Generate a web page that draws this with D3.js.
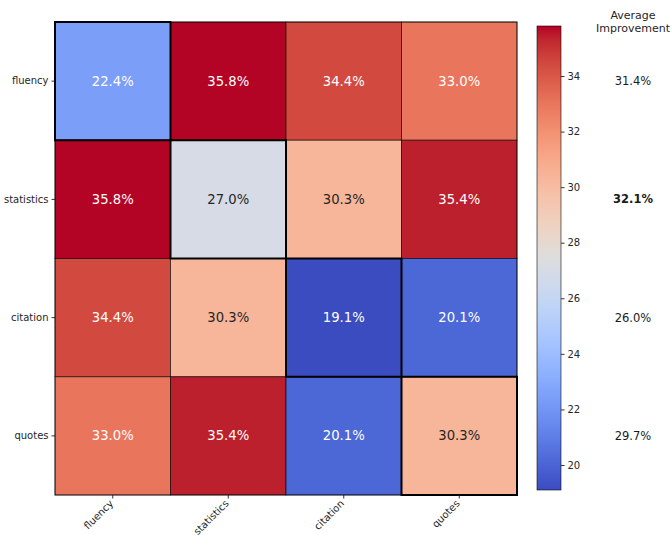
<!DOCTYPE html>
<html>
<head>
<meta charset="utf-8">
<script src="https://cdn.jsdelivr.net/npm/d3@7"></script>
<style>
  html, body { margin: 0; padding: 0; background: #fff; }
  svg { display: block; font-family: "DejaVu Sans", sans-serif; }
</style>
</head>
<body>
<svg id="chart" width="672" height="535"></svg>
<script>
// Pairwise improvement (%) between strategy combinations
const strategies = ["fluency", "statistics", "citation", "quotes"];
const rowFluency    = [22.4, 35.8, 34.4, 33.0];
const rowStatistics = [35.8, 27.0, 30.3, 35.4];
const rowCitation   = [34.4, 30.3, 19.1, 20.1];
const rowQuotes     = [33.0, 35.4, 20.1, 30.3];
const averages      = [31.4, 32.1, 26.0, 29.7];
const colorbarTicks = [20, 22, 24, 26, 28, 30, 32, 34];
const colorMin = 19.1, colorMax = 35.8;

const matrix = [rowFluency, rowStatistics, rowCitation, rowQuotes];
const bestAverage = d3.max(averages);

// coolwarm diverging colormap (Moreland), sampled stops
const coolwarmStops = [
  [59,76,192],[68,90,204],[77,104,215],[87,117,225],[98,130,234],[108,142,241],
  [119,154,247],[130,165,251],[141,176,254],[152,185,255],[163,194,255],[174,201,253],
  [184,208,249],[194,213,244],[204,217,238],[213,219,230],[221,221,221],[229,216,209],
  [236,211,197],[241,204,185],[245,196,173],[247,187,160],[247,177,148],[247,166,135],
  [244,154,123],[241,141,111],[236,127,99],[229,112,88],[222,96,77],[213,80,66],
  [203,62,56],[192,40,47],[180,4,38]
].map(c => d3.rgb(c[0], c[1], c[2]));
const coolwarm = d3.scaleLinear()
  .domain(coolwarmStops.map((_, i) => i / (coolwarmStops.length - 1)))
  .range(coolwarmStops)
  .interpolate(d3.interpolateRgb)
  .clamp(true);
const norm = d3.scaleLinear().domain([colorMin, colorMax]).clamp(true);
const colorOf = v => coolwarm(norm(v));

// Light or dark annotation depending on cell luminance
function textColorFor(fill) {
  const c = d3.rgb(fill);
  const lin = x => { x /= 255; return x <= 0.03928 ? x / 12.92 : Math.pow((x + 0.055) / 1.055, 2.4); };
  const lum = 0.2126 * lin(c.r) + 0.7152 * lin(c.g) + 0.0722 * lin(c.b);
  return lum > 0.408 ? "#262626" : "#ffffff";
}

const svg = d3.select("#chart");
const hm = { left: 55, top: 22, right: 517, bottom: 495 };

const x = d3.scaleBand().domain(strategies).range([hm.left, hm.right]);
const y = d3.scaleBand().domain(strategies).range([hm.top, hm.bottom]);

const cells = [];
matrix.forEach((row, i) => row.forEach((v, j) => cells.push({ r: strategies[i], c: strategies[j], i, j, v })));

const g = svg.append("g");

// Cells with thin edges
g.selectAll("rect.cell")
  .data(cells)
  .join("rect")
  .attr("class", "cell")
  .attr("x", d => x(d.c))
  .attr("y", d => y(d.r))
  .attr("width", x.bandwidth())
  .attr("height", y.bandwidth())
  .attr("fill", d => colorOf(d.v))
  .attr("stroke", "rgba(0,0,0,0.6)")
  .attr("stroke-width", 1);

// Diagonal cells outlined more heavily
g.selectAll("rect.diag")
  .data(cells.filter(d => d.i === d.j))
  .join("rect")
  .attr("class", "diag")
  .attr("x", d => x(d.c))
  .attr("y", d => y(d.r))
  .attr("width", x.bandwidth())
  .attr("height", y.bandwidth())
  .attr("fill", "none")
  .attr("stroke", "#000")
  .attr("stroke-width", 2);

// Cell annotations
g.selectAll("text.annot")
  .data(cells)
  .join("text")
  .attr("class", "annot")
  .attr("x", d => x(d.c) + x.bandwidth() / 2)
  .attr("y", d => y(d.r) + y.bandwidth() / 2)
  .attr("text-anchor", "middle")
  .attr("dominant-baseline", "central")
  .attr("font-size", 13.2)
  .attr("fill", d => textColorFor(colorOf(d.v)))
  .text(d => d.v.toFixed(1) + "%");

// Y axis
const yAxis = svg.append("g")
  .attr("transform", `translate(${hm.left},0)`)
  .call(d3.axisLeft(y).tickSize(3.5).tickPadding(3));
yAxis.select(".domain").remove();
yAxis.selectAll("text").attr("font-size", 10).attr("fill", "#262626").attr("font-family", "DejaVu Sans, sans-serif");
yAxis.selectAll("line").attr("stroke", "#333");

// X axis with rotated labels
const xAxis = svg.append("g")
  .attr("transform", `translate(0,${hm.bottom})`)
  .call(d3.axisBottom(x).tickSize(3.5).tickPadding(3));
xAxis.select(".domain").remove();
xAxis.selectAll("line").attr("stroke", "#333");
xAxis.selectAll("text")
  .attr("font-size", 10)
  .attr("fill", "#262626")
  .attr("font-family", "DejaVu Sans, sans-serif")
  .attr("text-anchor", "end")
  .attr("dy", null)
  .attr("y", 0)
  .attr("dominant-baseline", "hanging")
  .attr("transform", "translate(-4,4) rotate(-45)");

// Heatmap frame
svg.append("rect")
  .attr("x", hm.left).attr("y", hm.top)
  .attr("width", hm.right - hm.left).attr("height", hm.bottom - hm.top)
  .attr("fill", "none").attr("stroke", "rgba(0,0,0,0.6)").attr("stroke-width", 1);

// Colorbar
const cb = { x: 537, w: 24, top: 26, bottom: 490 };
const cbScale = d3.scaleLinear().domain([colorMin, colorMax]).range([cb.bottom, cb.top]);
const defs = svg.append("defs");
const grad = defs.append("linearGradient")
  .attr("id", "cbgrad").attr("x1", 0).attr("y1", 1).attr("x2", 0).attr("y2", 0);
d3.range(0, 1.0001, 1 / 64).forEach(t => {
  grad.append("stop").attr("offset", t).attr("stop-color", coolwarm(t));
});
svg.append("rect")
  .attr("x", cb.x).attr("y", cb.top)
  .attr("width", cb.w).attr("height", cb.bottom - cb.top)
  .attr("fill", "url(#cbgrad)")
  .attr("stroke", "rgba(0,0,0,0.7)").attr("stroke-width", 0.8);
const cbAxis = svg.append("g")
  .attr("transform", `translate(${cb.x + cb.w},0)`)
  .call(d3.axisRight(cbScale).tickValues(colorbarTicks).tickSize(3.5).tickPadding(3));
cbAxis.select(".domain").remove();
cbAxis.selectAll("line").attr("stroke", "#333");
cbAxis.selectAll("text").attr("font-size", 10).attr("fill", "#262626").attr("font-family", "DejaVu Sans, sans-serif");

// Average improvement column
const avgX = 633;
svg.append("text")
  .attr("x", avgX).attr("y", 15)
  .attr("text-anchor", "middle").attr("dominant-baseline", "central")
  .attr("font-size", 11).attr("fill", "#262626")
  .text("Average");
svg.append("text")
  .attr("x", avgX).attr("y", 28)
  .attr("text-anchor", "middle").attr("dominant-baseline", "central")
  .attr("font-size", 11).attr("fill", "#262626")
  .text("Improvement");
svg.selectAll("text.avg")
  .data(averages)
  .join("text")
  .attr("class", "avg")
  .attr("x", avgX)
  .attr("y", (d, i) => y(strategies[i]) + y.bandwidth() / 2)
  .attr("text-anchor", "middle")
  .attr("dominant-baseline", "central")
  .attr("font-size", 11.5)
  .attr("font-weight", d => d === bestAverage ? "bold" : "normal")
  .attr("fill", "#1a1a1a")
  .text(d => d.toFixed(1) + "%");
</script>
</body>
</html>
